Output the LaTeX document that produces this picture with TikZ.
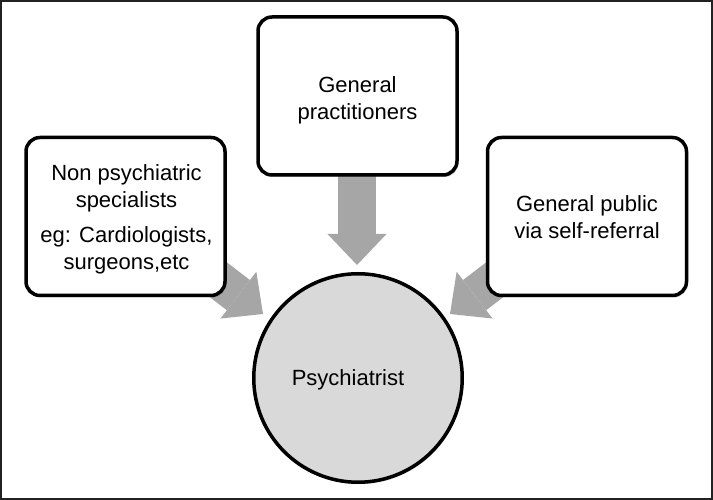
\documentclass[tikz,border=0pt]{standalone}
\usepackage{fontspec}
\setmainfont{Liberation Sans}
\usetikzlibrary{arrows.meta,shadows}
\definecolor{arrowgray}{HTML}{A6A6A6}
\definecolor{circfill}{HTML}{D9D9D9}
\definecolor{framecol}{HTML}{222222}
\begin{document}
\begin{tikzpicture}[x=1pt,y=1pt,
  txt/.style={font=\fontsize{22}{27}\selectfont, align=center, inner sep=0pt},
  box/.style={draw=black, line width=3.5pt, rounded corners=14pt, fill=white,
    minimum width=199pt, minimum height=158pt, inner sep=0pt,
    drop shadow={shadow xshift=1.5pt, shadow yshift=-2pt, opacity=0.35}},
  bigarrow/.style={color=arrowgray, line width=38pt, line cap=butt,
    -{Triangle[width=59pt,length=31pt,line width=0pt]}}]
\useasboundingbox (0,0) rectangle (713,500);
\fill[white] (0,0) rectangle (713,500);
% arrow end points
\coordinate (gpstart) at (357,350);
\coordinate (gptip) at (357,235);
\coordinate (nsstart) at (176,252.7);
\coordinate (nstip) at (263,186);
\coordinate (pubstart) at (537,252.7);
\coordinate (pubtip) at (450,186);
% arrows
\draw[bigarrow] (gpstart) -- (gptip);
\draw[bigarrow] (nsstart) -- (nstip);
\draw[bigarrow] (pubstart) -- (pubtip);
% boxes
\node[box, label={[txt, yshift=-4pt]center:General\\practitioners}] (gp) at (357.5,404) {};
\node[box, label={[txt, xshift=1pt, yshift=-3pt]center:Non psychiatric\\specialists\\[8pt]eg: Cardiologists,\\surgeons,etc}] (ns) at (125.5,283.5) {};
\node[box, label={[txt, yshift=-1pt]center:General public\\via self-referral}] (pub) at (587,283.5) {};
% psychiatrist
\node[circle, draw=black, line width=3.5pt, fill=circfill, minimum size=208.5pt, inner sep=0pt,
  drop shadow={shadow xshift=1pt, shadow yshift=-2pt, opacity=0.35}] (psy) at (358,122) {};
\node[txt] (psytext) at (348,120) {Psychiatrist};
% frame
\draw[framecol, line width=2pt] (1,1) rectangle (712,499);
\end{tikzpicture}
\end{document}
